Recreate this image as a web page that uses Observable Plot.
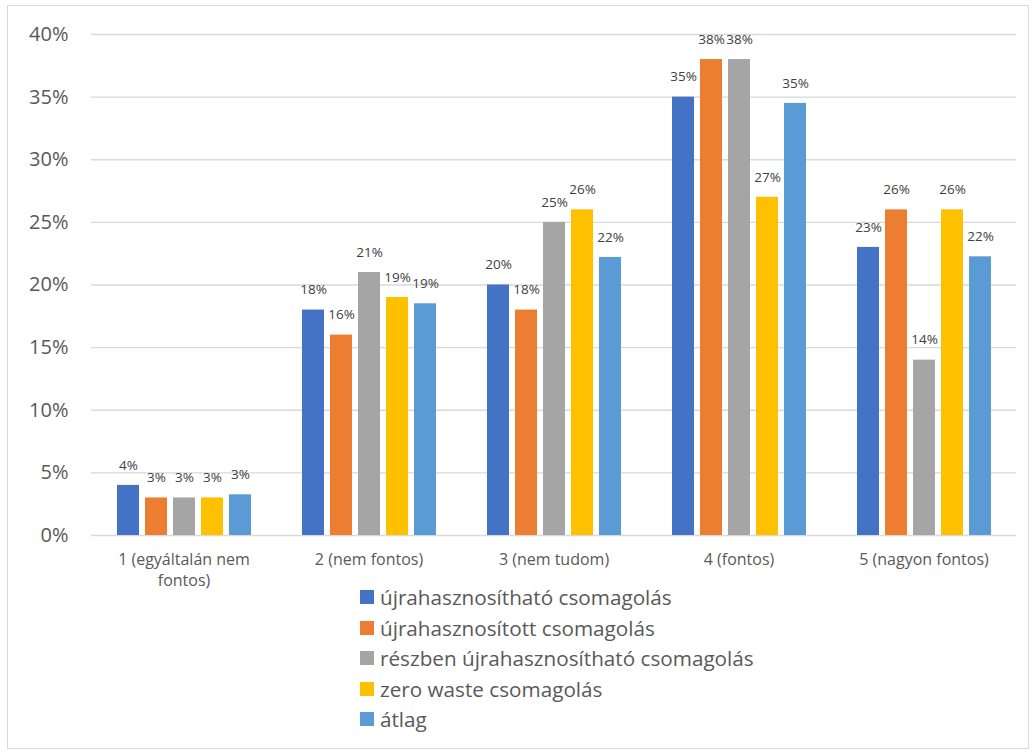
<!DOCTYPE html>
<html>
<head>
<meta charset="utf-8">
<script src="https://cdn.jsdelivr.net/npm/d3@7"></script>
<script src="https://cdn.jsdelivr.net/npm/@observablehq/plot@0.6"></script>
<style>
  html, body { margin: 0; padding: 0; background: #fff; }
  body { width: 1036px; height: 753px; position: relative; overflow: hidden; font-family: "Open Sans", sans-serif; }
  #frame { position: absolute; left: 7px; top: 5px; width: 1022px; height: 744px; border: 1px solid #d9d9d9; box-sizing: border-box; }
  #chart { position: absolute; left: 0; top: 0; }
  #legend { position: absolute; left: 360px; top: 582px; }
  .item { display: flex; align-items: center; height: 30.5px; font-size: 20.7px; color: #595959; }
  .sw { width: 14px; height: 14px; margin-right: 6px; flex: none; }
</style>
</head>
<body>
<div id="frame"></div>
<div id="chart"></div>
<div id="legend"></div>
<script>
const categories = ["1 (egyáltalán nem\nfontos)", "2 (nem fontos)", "3 (nem tudom)", "4 (fontos)", "5 (nagyon fontos)"];
const seriesNames = ["újrahasznosítható csomagolás", "újrahasznosított csomagolás", "részben újrahasznosítható csomagolás", "zero waste csomagolás", "átlag"];
const colors = ["#4472C4", "#ED7D31", "#A5A5A5", "#FFC000", "#5B9BD5"];
const reusable     = [4, 18, 20, 35, 23];
const recycled     = [3, 16, 18, 38, 26];
const partly       = [3, 21, 25, 38, 14];
const zeroWaste    = [3, 19, 26, 27, 26];
const average      = [3.25, 18.5, 22.2, 34.5, 22.25];
const yTicks = [0, 5, 10, 15, 20, 25, 30, 35, 40];

const seriesValues = [reusable, recycled, partly, zeroWaste, average];
const data = [];
categories.forEach((c, i) => {
  seriesNames.forEach((s, j) => {
    data.push({group: c, series: s, value: seriesValues[j][i]});
  });
});

const chart = Plot.plot({
  width: 1036,
  height: 600,
  marginLeft: 89,
  marginRight: 19,
  marginTop: 34,
  marginBottom: 65,
  style: {fontFamily: "'Open Sans', sans-serif", background: "transparent", overflow: "visible"},
  fx: {domain: categories, padding: 0, label: null},
  x: {domain: seriesNames, paddingInner: 0.228, paddingOuter: 0.866, axis: null},
  y: {domain: [0, 40], label: null},
  color: {domain: seriesNames, range: colors},
  marks: [
    Plot.gridY(yTicks, {stroke: "#d9d9d9", strokeOpacity: 1, strokeWidth: 1.3}),
    Plot.axisY(yTicks, {tickSize: 0, tickPadding: 23, fontSize: 20, fill: "#595959", tickFormat: d => d + "%", label: null}),
    Plot.axisFx({anchor: "bottom", tickSize: 0, tickPadding: 14, fontSize: 16, fill: "#595959", lineHeight: 1.35, label: null}),
    Plot.barY(data, {fx: "group", x: "series", y: "value", fill: "series"}),
    Plot.text(data, {fx: "group", x: "series", y: "value", text: d => Math.round(d.value) + "%", dy: -20, fontSize: 13.5, fill: "#404040"})
  ]
});
document.getElementById("chart").appendChild(chart);

const legend = document.getElementById("legend");
seriesNames.forEach((s, j) => {
  const row = document.createElement("div");
  row.className = "item";
  const sw = document.createElement("span");
  sw.className = "sw";
  sw.style.background = colors[j];
  const t = document.createElement("span");
  t.textContent = s;
  row.appendChild(sw);
  row.appendChild(t);
  legend.appendChild(row);
});
</script>
</body>
</html>
